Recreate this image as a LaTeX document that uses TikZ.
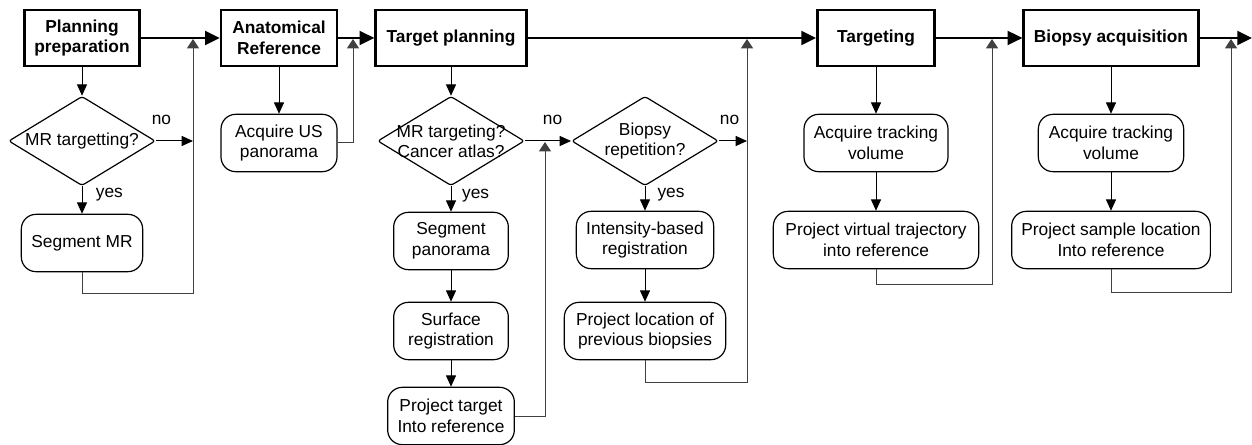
\documentclass[tikz,border=0pt]{standalone}
\usepackage{fontspec}
\setmainfont{Liberation Sans}
\usetikzlibrary{shapes.geometric,arrows.meta}

\tikzset{
  phase/.style={draw,line width=2pt,minimum height=42pt,align=center,
    font=\fontsize{13}{15.4}\selectfont\bfseries},
  task/.style={draw,line width=0.9pt,rounded corners=11pt,minimum height=43pt,
    align=center,font=\fontsize{13}{15.4}\selectfont},
  query/.style={draw,line width=0.9pt,diamond,rounded corners=2pt,aspect=1.65,
    inner sep=-6pt,minimum width=110pt,minimum height=67pt,align=center,
    font=\fontsize{13}{15}\selectfont},
  lbl/.style={inner sep=0pt,font=\fontsize{13}{15}\selectfont},
  mainflow/.style={line width=1.5pt,-{Triangle[length=11pt,width=10.5pt]}},
  flow/.style={line width=0.75pt,-{Triangle[length=8.5pt,width=7.5pt]}},
  back/.style={line width=0.75pt,black!75,shorten >=0.75pt,
    -{Triangle[length=7pt,width=9pt]}}
}

\begin{document}
\begin{tikzpicture}[x=0.75pt,y=-0.75pt]
\useasboundingbox (0,0) rectangle (1252,445);

\node[phase,minimum width=86pt] (prep) at (82,38) {Planning\\preparation};
\node[phase,minimum width=87pt] (anat) at (279,38) {Anatomical\\Reference};
\node[phase,minimum width=113pt] (tplan) at (451,38) {Target planning};
\node[phase,minimum width=88pt] (tgt) at (876,38) {Targeting};
\node[phase,minimum width=131pt] (bacq) at (1111,38) {Biopsy acquisition};

\node[query] (mrq) at (82,141) {MR targetting?};
\node[task,minimum width=91pt] (segmr) at (82,243) {Segment MR};

\node[task,minimum width=87pt] (acqus) at (279,143) {Acquire US\\panorama};

\node[query] (atlasq) at (451,141) {MR targeting?\\Cancer atlas?};
\node[task,minimum width=86pt] (segpan) at (451,241) {Segment\\panorama};
\node[task,minimum width=86pt] (surf) at (451,331) {Surface\\registration};
\node[task,minimum width=95pt] (projt) at (451,416) {Project target\\Into reference};

\node[query] (repq) at (645,141) {Biopsy\\repetition?};
\node[task,minimum width=103pt] (intens) at (645,240) {Intensity-based\\registration};
\node[task,minimum width=121pt] (projloc) at (645,331) {Project location of\\previous biopsies};

\node[task,minimum width=108pt] (trk1) at (876,143) {Acquire tracking\\volume};
\node[task,minimum width=154pt] (projvt) at (876,240) {Project virtual trajectory\\into reference};

\node[task,minimum width=109pt] (trk2) at (1111,143) {Acquire tracking\\volume};
\node[task,minimum width=149pt] (projsl) at (1111,240) {Project sample location\\Into reference};

\coordinate (j1) at (193,38);
\coordinate (j2) at (353,38);
\coordinate (j3) at (545,141);
\coordinate (j4) at (747,38);
\coordinate (j5) at (992,38);
\coordinate (j6) at (1231,38);
\coordinate (n1) at (193,141);
\coordinate (n3) at (747,141);
\coordinate (out) at (1252,38);

\draw[mainflow] (prep) -- (anat);
\draw[mainflow] (anat) -- (tplan);
\draw[mainflow] (tplan) -- (tgt);
\draw[mainflow] (tgt) -- (bacq);
\draw[mainflow] (bacq) -- (out);

\draw[flow] (prep) -- (mrq);
\draw[flow] (mrq) -- node[lbl,right=10pt,pos=0.32] (yes1) {yes} (segmr);
\draw[flow] (mrq.east) -- node[lbl,above=12pt,pos=0.15] (no1) {no} (n1);
\draw[back] (segmr.south) -- ++(0,21) -| (j1);

\draw[flow] (anat) -- (acqus);
\draw[back] (acqus.east) -| (j2);

\draw[flow] (tplan) -- (atlasq);
\draw[flow] (atlasq) -- node[lbl,right=8pt,pos=0.35] (yes2) {yes} (segpan);
\draw[flow] (segpan) -- (surf);
\draw[flow] (surf) -- (projt);
\draw[back] (projt.east) -| (j3);
\draw[flow] (atlasq.east) -- node[lbl,above=12pt,pos=0.6] (no2) {no} (repq.west);

\draw[flow] (repq) -- node[lbl,right=9pt,pos=0.35] (yes3) {yes} (intens);
\draw[flow] (intens) -- (projloc);
\draw[back] (projloc.south) -- ++(0,22) -| (j4);
\draw[flow] (repq.east) -- node[lbl,above=12pt,pos=0.38] (no3) {no} (n3);

\draw[flow] (tgt) -- (trk1);
\draw[flow] (trk1) -- (projvt);
\draw[back] (projvt.south) -- ++(0,15) -| (j5);

\draw[flow] (bacq) -- (trk2);
\draw[flow] (trk2) -- (projsl);
\draw[back] (projsl.south) -- ++(0,23) -| (j6);

\end{tikzpicture}
\end{document}
